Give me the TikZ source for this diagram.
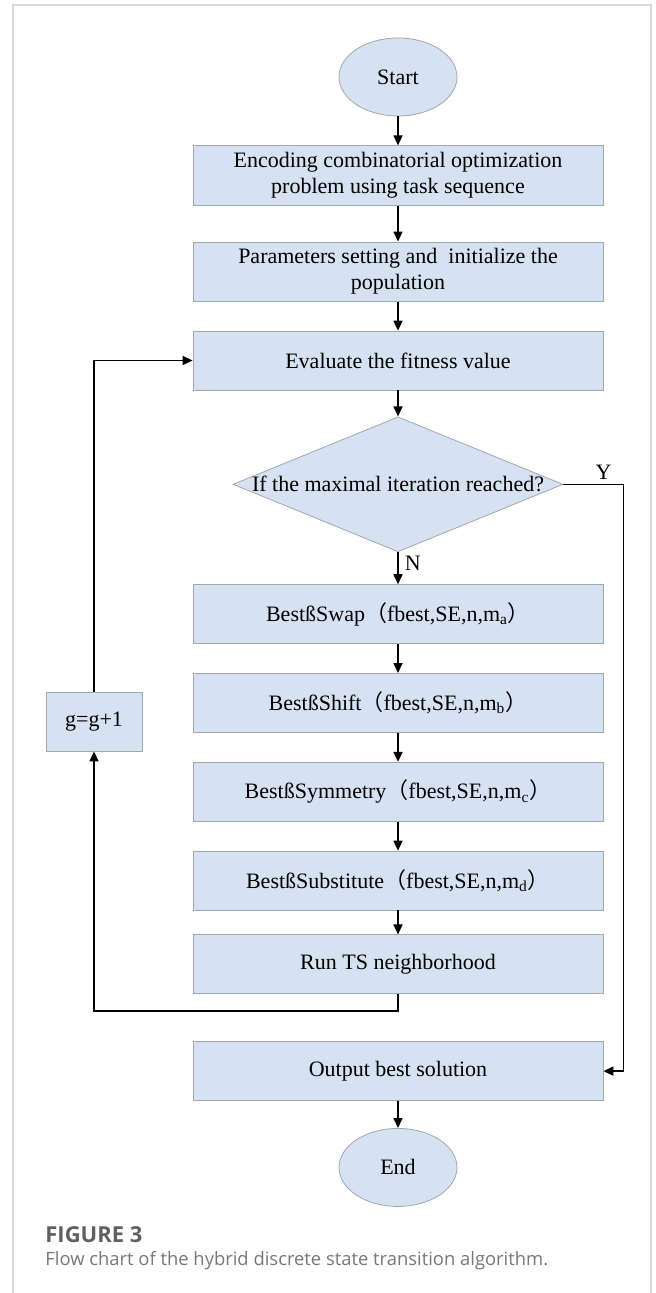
\documentclass[tikz,border=0pt]{standalone}
\usepackage{fontspec}
\setmainfont{Liberation Serif}
\newfontfamily\cjkfont{Noto Sans CJK SC}
\newfontfamily\capfont{Open Sans}
\usepackage{tikz}
\usetikzlibrary{shapes.geometric, arrows.meta, positioning}
\definecolor{BoxFill}{HTML}{D6E1F2}
\definecolor{BoxLine}{HTML}{A3A7AD}
\definecolor{FrameGray}{HTML}{D9D9D9}
\definecolor{CapGray}{HTML}{5F6062}
\newcommand{\fwopen}{{\cjkfont （}}
\newcommand{\fwclose}{{\cjkfont ）}}
\tikzset{
  % Box styles
  termbox/.style={ellipse, draw=BoxLine, fill=BoxFill, minimum width=59pt, minimum height=39pt},
  processbox/.style={rectangle, draw=BoxLine, fill=BoxFill, minimum width=205pt, minimum height=29.5pt, align=center},
  decisionbox/.style={diamond, draw=BoxLine, fill=BoxFill, minimum width=165pt, minimum height=67.5pt, inner sep=0pt},
  counterbox/.style={rectangle, draw=BoxLine, fill=BoxFill, minimum width=48pt, minimum height=29.5pt},
  % Arrow styles
  arrow/.style={->, >={Triangle[length=5pt, width=4.5pt]}, thick},
  % Caption styles
  captitle/.style={anchor=base west, inner sep=0pt, text=CapGray, font=\capfont\fontsize{11}{13}\selectfont\bfseries},
  captext/.style={anchor=base west, inner sep=0pt, text=CapGray!85, font=\capfont\fontsize{9.2}{11}\selectfont}
}
\begin{document}
\begin{tikzpicture}[x=0.5pt, y=-0.5pt, node distance=14.5pt, font=\fontsize{11}{13}\selectfont]
  \fill[white] (0,0) rectangle (656,1293);
  \useasboundingbox (0,0) rectangle (656,1293);
  \draw[FrameGray, line width=0.6pt] (13,1293) -- (13,5) -- (651,5) -- (651,1293);

  \node[termbox] (start) at (398,77) {Start};
  \node[processbox, below=of start] (s1) {Encoding combinatorial optimization\\problem using task sequence};
  \node[processbox, below=18pt of s1] (s2) {Parameters setting and~ initialize the\\population};
  \node[processbox, below=of s2] (s3) {Evaluate the fitness value};
  \node[decisionbox, below=13pt of s3, label=center:If the maximal iteration reached?] (check) {};
  \node[processbox, below=16pt of check] (b1) {BestßSwap\fwopen fbest,SE,n,m\textsubscript{a}\fwclose};
  \node[processbox, below=of b1] (b2) {BestßShift\fwopen fbest,SE,n,m\textsubscript{b}\fwclose};
  \node[processbox, below=of b2] (b3) {BestßSymmetry\fwopen fbest,SE,n,m\textsubscript{c}\fwclose};
  \node[processbox, below=of b3] (b4) {BestßSubstitute\fwopen fbest,SE,n,m\textsubscript{d}\fwclose};
  \node[processbox, below=12pt of b4] (ts) {Run TS neighborhood};
  \node[processbox, below=23.5pt of ts] (out) {Output best solution};
  \node[termbox, below=13.5pt of out] (stop) {End};
  \node[counterbox] (gbox) at (94,721.5) {g=g+1};

  \draw[arrow] (start.south) -- (s1.north);
  \draw[arrow] (s1.south) -- (s2.north);
  \draw[arrow] (s2.south) -- (s3.north);
  \draw[arrow] (s3.south) -- (check.north);
  \draw[arrow] (check.south) -- node[pos=0.35, right, inner sep=3pt] {N} (b1.north);
  \draw[arrow] (b1.south) -- (b2.north);
  \draw[arrow] (b2.south) -- (b3.north);
  \draw[arrow] (b3.south) -- (b4.north);
  \draw[arrow] (b4.south) -- (ts.north);
  \draw[arrow] (out.south) -- (stop.north);
  \draw[arrow] (check.east) -- ++(60,0) node[pos=0.67, above, inner sep=2pt] {Y} |- (out.east);
  \draw[arrow] (ts.south) -- ++(0,17) -| (gbox.south);
  \draw[arrow] (gbox.north) |- (s3.west);

  \node[captitle] (figno) at (45,1242) {FIGURE 3};
  \node[captext] (figcap) at (45,1265) {Flow chart of the hybrid discrete state transition algorithm.};
\end{tikzpicture}
\end{document}
